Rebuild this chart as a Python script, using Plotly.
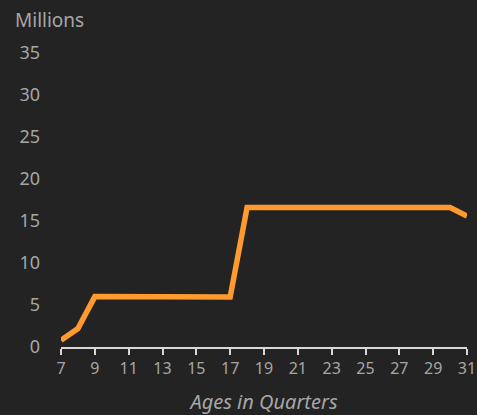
import plotly.graph_objects as go

ages = list(range(7, 32))
values = [0.8, 2.2, 6.0, 6.0, 6.0, 6.0, 6.0, 5.95, 5.95, 5.95, 5.95,
          16.6, 16.6, 16.6, 16.6, 16.65, 16.65, 16.65, 16.65, 16.6, 16.6, 16.6, 16.6, 16.6, 15.6]
x_ticks = list(range(7, 32, 2))
y_ticks = list(range(0, 36, 5))

font_family = "Noto Sans, Open Sans, sans-serif"
label_color = "#a6a6a6"

W, H = 477, 415
L, R, T, B = 61, 10, 53, 68

fig = go.Figure()
fig.add_trace(go.Scatter(x=ages, y=values, mode="lines",
                         line=dict(color="#FF9A2E", width=5.5), hoverinfo="x+y"))

fig.update_layout(
    width=W, height=H,
    paper_bgcolor="#232323", plot_bgcolor="#232323",
    margin=dict(l=L, r=R, t=T, b=B),
    showlegend=False,
    font=dict(family=font_family, color=label_color, size=16),
    xaxis=dict(range=[7, 31], tickvals=x_ticks, showgrid=False, zeroline=False,
               showline=True, linecolor="#d9d9d9", linewidth=2, automargin=False,
               ticks="outside", ticklen=6, tickwidth=2, tickcolor="#d9d9d9",
               tickfont=dict(size=16, color=label_color),
               title=dict(text="Ages in Quarters", font=dict(size=20, color=label_color, style="italic"), standoff=18)),
    yaxis=dict(range=[0, 35], tickvals=y_ticks, showgrid=False, zeroline=False,
               showline=False, ticks="", ticklabelstandoff=20, automargin=False,
               tickfont=dict(size=18, color=label_color)),
    annotations=[dict(text="Millions", x=(13 - L) / (W - L - R), y=1 + (T - 20) / (H - T - B),
                      xref="paper", yref="paper",
                      showarrow=False, font=dict(size=19, color=label_color),
                      xanchor="left", yanchor="middle")],
)

fig.write_html("out.html", config={"displayModeBar": False})
with open("out.html", "r", encoding="utf-8") as f:
    html = f.read()
html = html.replace("<head>", "<head><style>html,body{margin:0;padding:0;background:#232323;overflow:hidden}</style>", 1)
with open("out.html", "w", encoding="utf-8") as f:
    f.write(html)
